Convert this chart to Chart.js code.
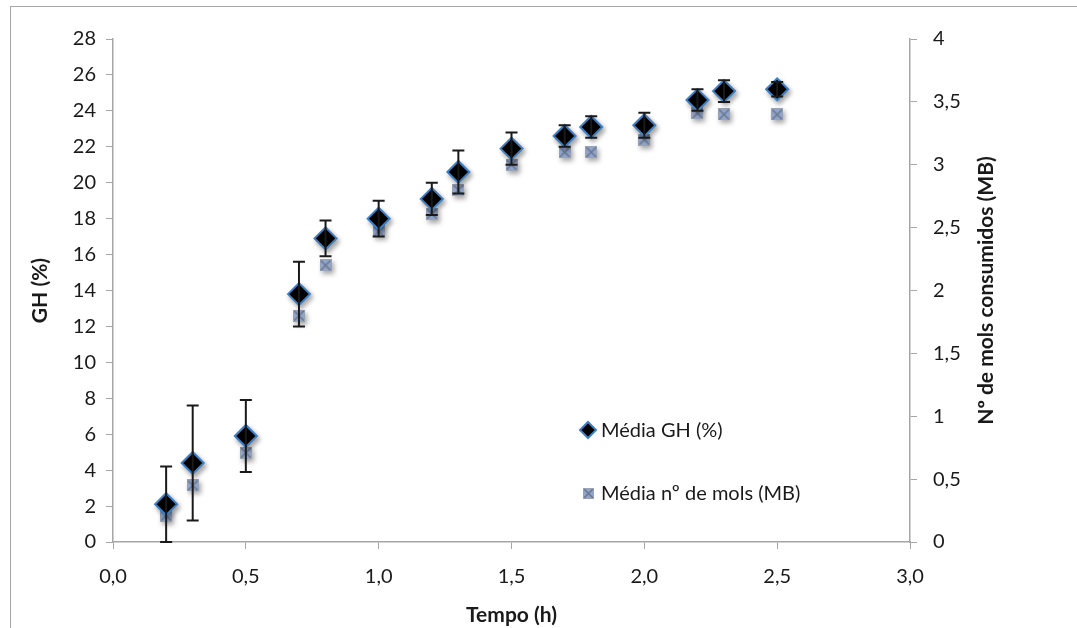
<!DOCTYPE html>
<html>
<head>
<meta charset="utf-8">
<script src="https://cdn.jsdelivr.net/npm/chart.js@4.4.0/dist/chart.umd.min.js"></script>
<style>
  body { margin: 0; background: #fff; overflow: hidden; }
  #frame { position: absolute; left: 10px; top: 6px; width: 1200px; height: 700px;
           border-left: 1px solid #a6a6a6; border-top: 1px solid #a6a6a6; }
  #wrap { position: absolute; left: 0; top: 0; width: 1077px; height: 628px; }
</style>
</head>
<body>
<div id="frame"></div>
<div id="wrap"><canvas id="chart" width="1077" height="628"></canvas></div>
<script>
// tempo (h)
const times = [0.2, 0.3, 0.5, 0.7, 0.8, 1.0, 1.2, 1.3, 1.5, 1.7, 1.8, 2.0, 2.2, 2.3, 2.5];
// média GH (%) e desvio
const ghMean = [2.1, 4.4, 5.9, 13.8, 16.9, 18.0, 19.1, 20.6, 21.9, 22.6, 23.1, 23.2, 24.6, 25.1, 25.2];
const ghErr  = [2.1, 3.2, 2.0, 1.8, 1.0, 1.0, 0.9, 1.2, 0.9, 0.6, 0.6, 0.7, 0.6, 0.6, 0.4];
// média nº de mols consumidos (MB)
const molsMean = [0.21, 0.45, 0.71, 1.80, 2.20, 2.47, 2.61, 2.80, 3.00, 3.10, 3.10, 3.20, 3.41, 3.40, 3.40];

const xTicks = [0, 0.5, 1, 1.5, 2, 2.5, 3];
const ghLabel = "Média GH (%)";
const molsLabel = "Média nº de mols (MB)";

const FONT = "Lato";
const comma = v => v.toString().replace(".", ",");

// marcador quadrado com X
function squareMarker(size) {
    const c = document.createElement("canvas");
    c.width = size; c.height = size;
    const g = c.getContext("2d");
    g.fillStyle = "#8ea5cf";
    g.fillRect(0, 0, size, size);
    g.strokeStyle = "#6d7688";
    g.lineWidth = 1.5;
    g.beginPath();
    g.moveTo(1, 1); g.lineTo(size - 1, size - 1);
    g.moveTo(size - 1, 1); g.lineTo(1, size - 1);
    g.stroke();
    g.strokeStyle = "#9aa3b3";
    g.lineWidth = 1;
    g.strokeRect(0.5, 0.5, size - 1, size - 1);
    return c;
}
const sqBig = squareMarker(12);
const sqSmall = squareMarker(11);

const errorBars = {
    id: "errorBars",
    afterDatasetsDraw(chart) {
        const ctx = chart.ctx, xs = chart.scales.x, ys = chart.scales.y;
        ctx.save();
        ctx.strokeStyle = "#1a1a1a";
        ctx.lineWidth = 2;
        times.forEach((t, i) => {
            const px = xs.getPixelForValue(t);
            const top = ys.getPixelForValue(ghMean[i] + ghErr[i]);
            const bot = ys.getPixelForValue(Math.max(0, ghMean[i] - ghErr[i]));
            ctx.beginPath();
            ctx.moveTo(px, top); ctx.lineTo(px, bot);
            ctx.moveTo(px - 6, top); ctx.lineTo(px + 6, top);
            ctx.moveTo(px - 6, bot); ctx.lineTo(px + 6, bot);
            ctx.stroke();
        });
        ctx.restore();
    }
};

const shadow = {
    id: "shadow",
    beforeDatasetDraw(chart) {
        const ctx = chart.ctx;
        ctx.save();
        ctx.shadowColor = "rgba(0,0,0,0.35)";
        ctx.shadowBlur = 5;
        ctx.shadowOffsetX = 2;
        ctx.shadowOffsetY = 3;
    },
    afterDatasetDraw(chart) { chart.ctx.restore(); }
};

const extras = {
    id: "extras",
    afterDraw(chart) {
        const ctx = chart.ctx, ca = chart.chartArea;
        ctx.save();
        // título do eixo direito (lido de baixo para cima)
        ctx.translate(986, (ca.top + ca.bottom) / 2);
        ctx.rotate(-Math.PI / 2);
        ctx.font = "bold 21px " + FONT;
        ctx.fillStyle = "#1a1a1a";
        ctx.textAlign = "center";
        ctx.textBaseline = "middle";
        ctx.fillText("Nº de mols consumidos (MB)", 0, 0);
        ctx.restore();

        // legenda
        ctx.save();
        ctx.font = "20px " + FONT;
        ctx.textBaseline = "middle";
        ctx.fillStyle = "#000";
        ctx.strokeStyle = "#3f7fc4";
        ctx.lineWidth = 2;
        ctx.beginPath();
        ctx.moveTo(588, 422); ctx.lineTo(596, 430); ctx.lineTo(588, 438); ctx.lineTo(580, 430);
        ctx.closePath(); ctx.fill(); ctx.stroke();
        ctx.drawImage(sqSmall, 583, 488);
        ctx.fillStyle = "#1a1a1a";
        ctx.fillText(ghLabel, 601, 431);
        ctx.fillText(molsLabel, 601, 494);
        ctx.restore();
    }
};

new Chart(document.getElementById("chart"), {
    type: "scatter",
    data: {
        datasets: [{
            label: ghLabel,
            data: times.map((t, i) => ({ x: t, y: ghMean[i] })),
            yAxisID: "y",
            pointStyle: "rectRot",
            pointRadius: 11,
            pointHoverRadius: 11,
            backgroundColor: "#000000",
            borderColor: "#3f7fc4",
            borderWidth: 2
        }, {
            label: molsLabel,
            data: times.map((t, i) => ({ x: t, y: molsMean[i] })),
            yAxisID: "y2",
            pointStyle: sqBig,
            pointRadius: 6,
            pointHoverRadius: 6
        }]
    },
    options: {
        responsive: false,
        animation: false,
        devicePixelRatio: 1,
        layout: { padding: { top: 39, left: 0, right: 0, bottom: 0 } },
        plugins: { legend: { display: false }, tooltip: { enabled: false } },
        scales: {
            x: {
                type: "linear", min: 0, max: 3,
                afterBuildTicks: s => { s.ticks = xTicks.map(v => ({ value: v })); },
                afterFit: s => { s.height = 86; },
                ticks: { color: "#1a1a1a", font: { family: FONT, size: 20 }, padding: 16,
                         callback: v => v.toFixed(1).replace(".", ",") },
                grid: { drawOnChartArea: false, tickLength: 7, color: "#a6a6a6" },
                border: { color: "#a6a6a6", width: 1.5 },
                title: { display: true, text: "Tempo (h)", color: "#1a1a1a",
                         font: { family: FONT, size: 21, weight: "bold" }, padding: { top: 8, bottom: 0 } }
            },
            y: {
                position: "left", min: 0, max: 28,
                afterFit: s => { s.width = 113; },
                ticks: { stepSize: 2, color: "#1a1a1a", font: { family: FONT, size: 20 }, padding: 10 },
                grid: { drawOnChartArea: false, tickLength: 7, color: "#a6a6a6" },
                border: { color: "#a6a6a6", width: 1.5 },
                title: { display: true, text: "GH (%)", color: "#1a1a1a",
                         font: { family: FONT, size: 21, weight: "bold" }, padding: { top: 28, bottom: 0 } }
            },
            y2: {
                position: "right", min: 0, max: 4,
                afterFit: s => { s.width = 167; },
                ticks: { stepSize: 0.5, color: "#1a1a1a", font: { family: FONT, size: 20 }, padding: 16,
                         callback: v => comma(v) },
                grid: { drawOnChartArea: false, tickLength: 7, color: "#a6a6a6" },
                border: { color: "#a6a6a6", width: 1.5 }
            }
        }
    },
    plugins: [errorBars, shadow, extras]
});
</script>
</body>
</html>
